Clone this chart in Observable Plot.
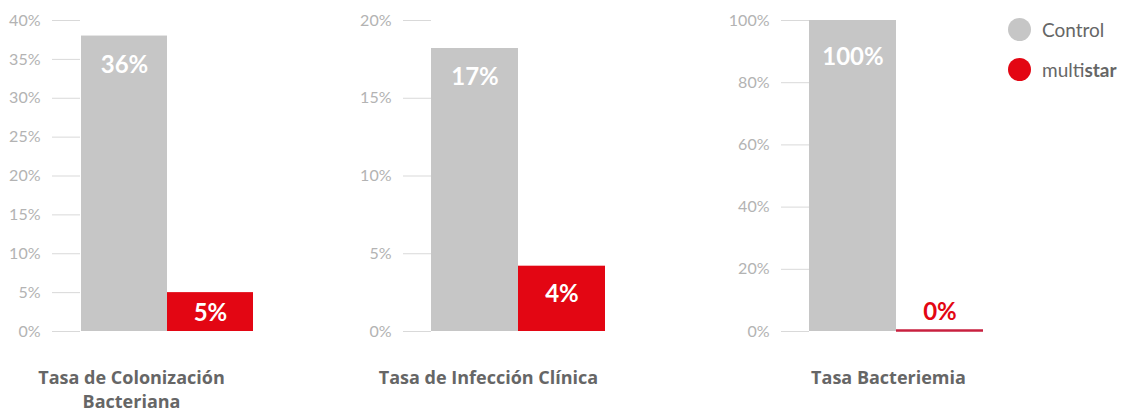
<!DOCTYPE html>
<html>
<head>
<meta charset="utf-8">
<script src="https://cdn.jsdelivr.net/npm/d3@7"></script>
<script src="https://cdn.jsdelivr.net/npm/@observablehq/plot@0.6"></script>
<style>
  html, body { margin: 0; padding: 0; background: #fff; }
  #wrap { position: relative; width: 1130px; height: 412px; font-family: Lato, "Open Sans", sans-serif; }
  .panel { position: absolute; top: 0; }
  .legend { position: absolute; left: 1008px; top: 17px; font-family: Lato, sans-serif; font-size: 19px; color: #666; }
  .legend .row { display: flex; align-items: center; height: 24px; margin-bottom: 16px; }
  .legend .sw { width: 23px; height: 23px; border-radius: 50%; margin-right: 11px; }
</style>
</head>
<body>
<div id="wrap"></div>
<script>
// ---- data ----
const groups = ["Control", "multistar"];
const categories = ["Tasa de Colonización\nBacteriana", "Tasa de Infección Clínica", "Tasa Bacteriemia"];
const controlValues = [38, 18.2, 100];      // bar heights as drawn
const multistarValues = [5, 4.2, 0];
const controlLabels = ["36%", "17%", "100%"];
const multistarLabels = ["5%", "4%", "0%"];
const yMax = [40, 20, 100];
const yTickStep = [5, 5, 20];
const colors = { Control: "#c6c6c6", multistar: "#e30613" };

// ---- layout per panel ----
const panels = [
  { left: 0, width: 280, marginLeft: 80, barsRight: 253, labelCx: 131 },
  { left: 340, width: 300, marginLeft: 91, barsRight: 265, labelCx: 148 },
  { left: 700, width: 300, marginLeft: 109, barsRight: 283, labelCx: 188 }
];
const H = 412, MT = 20, MB = 81;
const plotH = H - MT - MB;

const wrap = document.getElementById("wrap");

categories.forEach((cat, i) => {
  const p = panels[i];
  const data = [
    { group: "Control", value: controlValues[i], label: controlLabels[i] },
    { group: "multistar", value: multistarValues[i], label: multistarLabels[i] }
  ];
  const ticks = d3.range(0, yMax[i] + 1e-9, yTickStep[i]);
  const labelMarks = data.map(d => {
    const hpx = d.value / yMax[i] * plotH;
    if (d.value === 0) {
      return Plot.text([d], { x: "group", y: "value", text: "label", fill: "#e30613", fontWeight: "bold", fontSize: 24, dy: -19 });
    }
    let dy;
    if (d.group === "Control") dy = hpx > 0.97 * plotH ? 37 : 29;
    else dy = Math.min(28, hpx / 2 + 1);
    return Plot.text([d], { x: "group", y: "value", text: "label", fill: "white", fontWeight: "bold", fontSize: 24, dy });
  });
  const chart = Plot.plot({
    width: p.width,
    height: H,
    marginLeft: p.marginLeft,
    marginRight: p.width - p.barsRight,
    marginTop: MT,
    marginBottom: MB,
    style: { fontFamily: "Lato, 'Open Sans', sans-serif", background: "transparent", overflow: "visible" },
    x: { domain: groups, padding: 0, axis: null },
    y: { domain: [0, yMax[i]], axis: null },
    marks: [
      Plot.axisY({ ticks, tickFormat: d => d + "%", tickSize: 28, tickPadding: 12, stroke: "#d9d9d9", color: "#b3b3b3", fontSize: 16, label: null }),
      Plot.barY(data.filter(d => d.value > 0), { x: "group", y: "value", fill: d => colors[d.group], inset: 0 }),
      Plot.tickY(data.filter(d => d.value === 0), { x: "group", y: "value", stroke: "#c8203f", strokeWidth: 2.5, dy: -1 }),
      ...labelMarks,
      Plot.text([cat], { frameAnchor: "bottom", text: d => d, dx: p.labelCx - (p.marginLeft + p.barsRight) / 2, dy: 36, lineAnchor: "top", lineHeight: 1.3, fontSize: 18, fontWeight: "bold", fill: "#666", fontFamily: "'Open Sans', sans-serif" })
    ]
  });
  chart.classList.add("panel");
  chart.style.left = p.left + "px";
  wrap.appendChild(chart);
});

// legend
const legend = document.createElement("div");
legend.className = "legend";
legend.innerHTML = groups.map(g =>
  `<div class="row"><div class="sw" style="background:${colors[g]}"></div><span>${g === "multistar" ? "multi<b>star</b>" : g}</span></div>`
).join("");
wrap.appendChild(legend);
</script>
</body>
</html>
